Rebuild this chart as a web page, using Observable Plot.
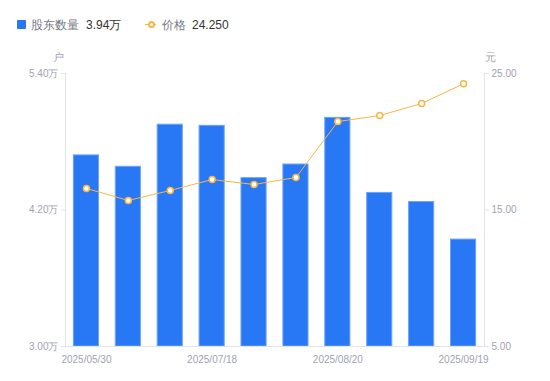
<!DOCTYPE html>
<html>
<head>
<meta charset="utf-8">
<script src="https://cdn.jsdelivr.net/npm/d3@7"></script>
<script src="https://cdn.jsdelivr.net/npm/@observablehq/plot@0.6"></script>
<style>
  html, body { margin: 0; padding: 0; background: #fff; font-family: "Liberation Sans", Arial, sans-serif; }
  #legend { position: relative; height: 44px; width: 550px; font-size: 12px; }
  #legend span { position: absolute; top: 18px; line-height: 14px; white-space: nowrap; }
  #chart svg { display: block; }
</style>
</head>
<body>
<div id="legend"></div>
<div id="chart"></div>
<script>
const dates = ["2025/05/30","2025/06/10","2025/06/30","2025/07/18","2025/07/31","2025/08/08","2025/08/20","2025/08/29","2025/09/10","2025/09/19"];
const holders = [4.68, 4.58, 4.95, 4.94, 4.48, 4.60, 5.01, 4.35, 4.27, 3.94]; // 万户
const prices = [16.58, 15.70, 16.43, 17.23, 16.87, 17.38, 21.48, 21.92, 22.80, 24.25]; // 元
const xTickLabels = ["2025/05/30","2025/07/18","2025/08/20","2025/09/19"];
const leftTicks = [3.0, 4.2, 5.4];
const rightTicks = [5, 15, 25];
const seriesNames = ["股东数量", "价格"];

const leftDomain = [leftTicks[0], leftTicks[leftTicks.length - 1]];
const rightDomain = [rightTicks[0], rightTicks[rightTicks.length - 1]];
const toLeft = p => leftDomain[0] + (p - rightDomain[0]) / (rightDomain[1] - rightDomain[0]) * (leftDomain[1] - leftDomain[0]);
const toRight = v => rightDomain[0] + (v - leftDomain[0]) / (leftDomain[1] - leftDomain[0]) * (rightDomain[1] - rightDomain[0]);

const data = dates.map((d, i) => ({date: d, holders: holders[i], price: prices[i], py: toLeft(prices[i])}));

const BLUE = "#2878f5";
const ORANGE = "#f8b640";
const AXIS = "#e3e4ea";
const TICK = "#9fa2b4";

// legend
const legend = document.getElementById("legend");
legend.innerHTML = `
  <span style="left:17px;top:20px;width:9px;height:9px;background:${BLUE};border-radius:1px"></span>
  <span style="left:31px;color:#777a86">${seriesNames[0]}</span>
  <span style="left:86px;color:#333">${holders[holders.length-1].toFixed(2)}万</span>
  <span style="left:145px;top:24px;width:11px;height:1px;background:${ORANGE}"></span>
  <span style="left:147.5px;top:20.5px;width:3px;height:3px;border:2px solid ${ORANGE};border-radius:50%;background:#fff"></span>
  <span style="left:162px;color:#777a86">${seriesNames[1]}</span>
  <span style="left:192px;color:#333">${prices[prices.length-1].toFixed(3)}</span>
`;

const chart = Plot.plot({
  width: 550,
  height: 337,
  marginTop: 29,
  marginBottom: 35,
  marginLeft: 65,
  marginRight: 66,
  style: {fontFamily: "Liberation Sans, Arial, sans-serif", fontSize: "10px"},
  x: {type: "band", domain: dates, paddingInner: 0.4, paddingOuter: 0.2, round: false},
  y: {domain: leftDomain},
  marks: [
    Plot.frame({anchor: "left", stroke: AXIS}),
    Plot.frame({anchor: "right", stroke: AXIS}),
    Plot.barY(data, {x: "date", y1: leftDomain[0], y2: "holders", fill: BLUE, stroke: "#6ea3f7", strokeWidth: 1}),
    Plot.ruleY([leftDomain[0]], {stroke: AXIS}),
    Plot.line(data, {x: "date", y: "py", stroke: ORANGE, strokeWidth: 1}),
    Plot.dot(data, {x: "date", y: "py", r: 3, fill: "#fff", stroke: ORANGE, strokeWidth: 1.5}),
    Plot.axisX({ticks: xTickLabels, tickSize: 0, tickPadding: 9, fill: TICK, label: null}),
    Plot.axisY({anchor: "left", ticks: leftTicks, tickFormat: d => d.toFixed(2) + "万", tickSize: 4, tickPadding: 3, stroke: AXIS, fill: TICK, label: null}),
    Plot.axisY({anchor: "right", ticks: leftTicks, tickFormat: d => toRight(d).toFixed(2), tickSize: 4, tickPadding: 3, stroke: AXIS, fill: TICK, label: null}),
    Plot.text(["户"], {frameAnchor: "top-left", textAnchor: "middle", lineAnchor: "middle", dx: -7, dy: -16, fill: TICK, fontSize: 11}),
    Plot.text(["元"], {frameAnchor: "top-right", textAnchor: "middle", lineAnchor: "middle", dx: 6, dy: -16, fill: TICK, fontSize: 11})
  ]
});
document.getElementById("chart").appendChild(chart);
</script>
</body>
</html>
